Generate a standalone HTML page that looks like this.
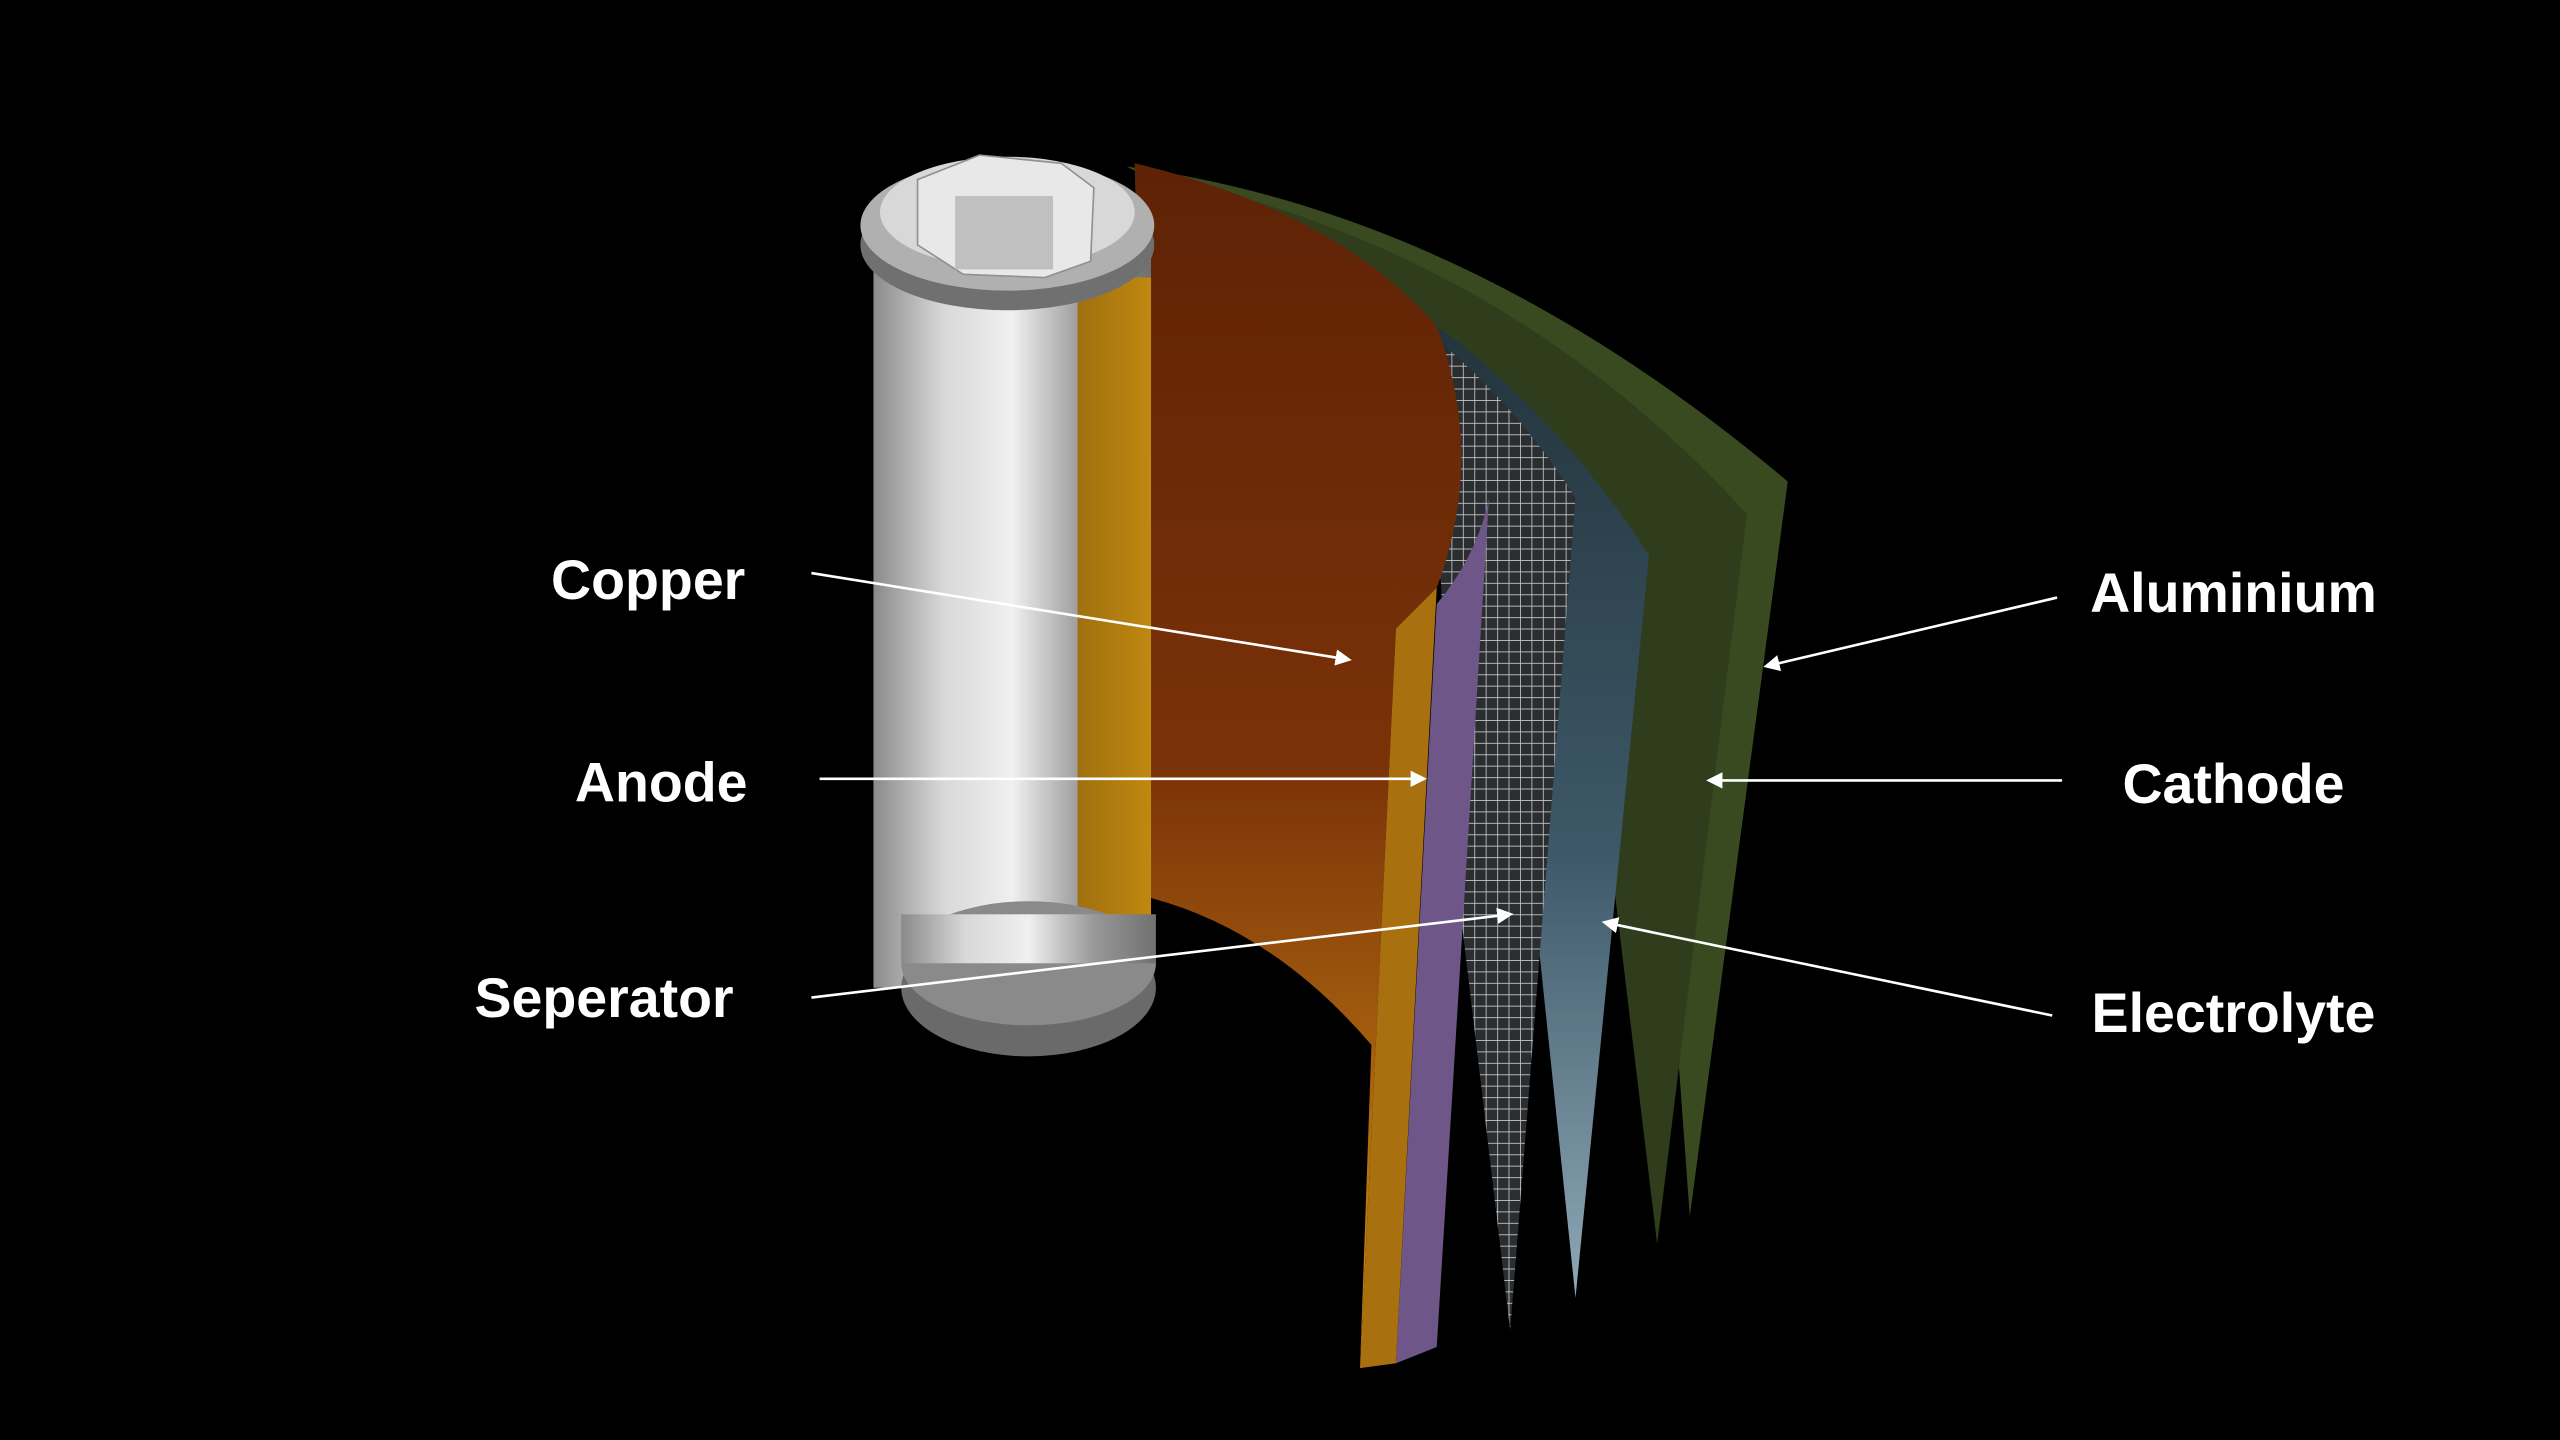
<!DOCTYPE html>
<html><head><meta charset="utf-8"><style>
html,body{margin:0;padding:0;background:#000;width:2560px;height:1440px;overflow:hidden}
svg{display:block}
text{font-family:"Liberation Sans",sans-serif;font-weight:bold;fill:#fff;font-size:34px}
</style></head><body>
<svg width="2560" height="1440" viewBox="0 0 1568 882" xmlns="http://www.w3.org/2000/svg">
<defs>
<linearGradient id="cu" x1="0" y1="0" x2="0" y2="1">
<stop offset="0" stop-color="#5e2206"/><stop offset="0.5" stop-color="#7a3208"/><stop offset="0.8" stop-color="#b06a10"/><stop offset="1" stop-color="#d08a10"/></linearGradient>
<linearGradient id="body" x1="0" y1="0" x2="1" y2="0">
<stop offset="0" stop-color="#8a8a8a"/><stop offset="0.25" stop-color="#d8d8d8"/><stop offset="0.5" stop-color="#f0f0f0"/><stop offset="0.75" stop-color="#9a9a9a"/><stop offset="1" stop-color="#707070"/></linearGradient>
<linearGradient id="wrap" x1="0" y1="0" x2="1" y2="0">
<stop offset="0" stop-color="#a07010"/><stop offset="1" stop-color="#c08810"/></linearGradient>
<linearGradient id="el" x1="0" y1="0" x2="0" y2="1">
<stop offset="0" stop-color="#1c2a30"/><stop offset="0.6" stop-color="#3d5868"/><stop offset="1" stop-color="#8fa8b8"/></linearGradient>
<pattern id="mesh" width="7" height="7" patternUnits="userSpaceOnUse">
<rect width="7" height="7" fill="#2a2e30"/>
<path d="M0 0H7M0 0V7" stroke="#c8c8c8" stroke-width="1"/></pattern>
<marker id="ah" markerWidth="10" markerHeight="10" refX="8" refY="5" orient="auto" markerUnits="userSpaceOnUse">
<path d="M0 0L10 5L0 10z" fill="#fff"/></marker>
</defs>
<rect width="1568" height="882" fill="#000"/>
<!-- aluminium -->
<path d="M690 102 Q900 130 1095 295 L1035 745 L1010 400 L880 200 Z" fill="#3a4a20"/>
<!-- cathode -->
<path d="M700 106 Q920 150 1070 315 L1015 762 L975 430 L880 210 Z" fill="#2f3d1c"/>
<!-- electrolyte -->
<path d="M700 110 Q900 170 1010 340 L965 795 L930 460 L880 220 Z" fill="url(#el)"/>
<!-- separator -->
<path d="M700 112 Q880 170 965 305 L925 815 L890 520 L880 300 Z" fill="url(#mesh)"/>
<!-- anode -->
<path d="M880 370 Q905 340 912 305 L880 825 L855 835 Z" fill="#6e5688"/>
<!-- copper -->
<path d="M695 100 Q820 130 880 200 Q910 280 880 360 L855 385 L833 838 L840 640 Q780 570 705 550 Z" fill="url(#cu)"/>
<path d="M855 385 L880 360 L855 835 L833 838Z" fill="#a8700e"/>
<!-- cylinder body -->
<rect x="535" y="140" width="170" height="465" fill="url(#body)"/>
<rect x="660" y="170" width="45" height="410" fill="url(#wrap)"/>
<ellipse cx="630" cy="605" rx="78" ry="42" fill="#6a6a6a"/>
<ellipse cx="630" cy="590" rx="78" ry="38" fill="#8a8a8a"/>
<rect x="552" y="560" width="156" height="30" fill="url(#body)"/>
<!-- top cap -->
<ellipse cx="617" cy="150" rx="90" ry="40" fill="#707070"/>
<ellipse cx="617" cy="138" rx="90" ry="40" fill="#b0b0b0"/>
<ellipse cx="617" cy="130" rx="78" ry="34" fill="#d8d8d8"/>
<path d="M562 110 L600 95 L650 100 L670 115 L668 160 L640 170 L590 168 L562 150Z" fill="#e8e8e8" stroke="#909090"/>
<rect x="585" y="120" width="60" height="45" fill="#c0c0c0"/>
<!-- connectors -->
<g stroke="#fff" stroke-width="1.6" fill="none" marker-end="url(#ah)">
<line x1="497" y1="351" x2="826" y2="404"/>
<line x1="502" y1="477" x2="872" y2="477"/>
<line x1="497" y1="611" x2="925" y2="560"/>
<line x1="1260" y1="366" x2="1082" y2="408"/>
<line x1="1263" y1="478" x2="1047" y2="478"/>
<line x1="1257" y1="622" x2="983" y2="565"/>
</g>
<text x="397" y="367" text-anchor="middle">Copper</text>
<text x="405" y="491" text-anchor="middle">Anode</text>
<text x="370" y="623" text-anchor="middle">Seperator</text>
<text x="1368" y="375" text-anchor="middle">Aluminium</text>
<text x="1368" y="492" text-anchor="middle">Cathode</text>
<text x="1368" y="632" text-anchor="middle">Electrolyte</text>
</svg>
</body></html>
